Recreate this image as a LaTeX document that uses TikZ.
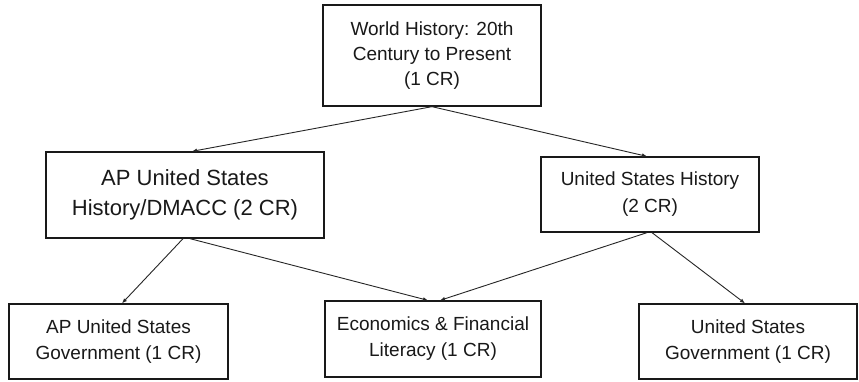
\documentclass[tikz,border=0pt]{standalone}
\usepackage{fontspec}
\setmainfont{Liberation Sans}
\usetikzlibrary{arrows.meta}
\tikzset{
  box/.style={draw=black!90, line width=1.3pt, fill=white, align=center, inner sep=0pt, text=black!90},
  arr/.style={draw=black!85, line width=0.9pt, -{Latex[length=5pt,width=4pt]}},
  fnormal/.style={font=\fontsize{19}{26}\selectfont},
}
\begin{document}
\begin{tikzpicture}[x=1pt,y=-1pt]
\useasboundingbox[fill=white] (0,0) rectangle (859,381);
\node[box, minimum width=218pt, minimum height=101pt, font=\fontsize{19}{25}\selectfont] (top) at (432,55.5) {World History: 20th\\Century to Present\\(1 CR)};
\node[box, minimum width=278pt, minimum height=86pt, font=\fontsize{22}{30}\selectfont] (lm) at (185,195) {AP United States\\History/DMACC (2 CR)};
\node[box, minimum width=218pt, minimum height=75pt, font=\fontsize{19}{27}\selectfont] (rm) at (650,194.5) {United States History\\(2 CR)};
\node[box, fnormal, minimum width=219pt, minimum height=75pt] (bl) at (118.5,341.5) {AP United States\\Government (1 CR)};
\node[box, fnormal, minimum width=216pt, minimum height=76pt] (bc) at (433,339) {Economics \& Financial\\Literacy (1 CR)};
\node[box, fnormal, minimum width=218pt, minimum height=75pt] (br) at (748,341.5) {United States\\Government (1 CR)};
\draw[arr] (top.south) -- ([xshift=7pt]lm.north);
\draw[arr] (top.south) -- ([xshift=-3pt]rm.north);
\draw[arr] ([xshift=-2pt]lm.south) -- ([xshift=3.5pt]bl.north);
\draw[arr] ([xshift=5pt]lm.south) -- ([xshift=-5pt]bc.north);
\draw[arr] ([xshift=-3pt]rm.south) -- ([xshift=7pt]bc.north);
\draw[arr] ([xshift=2pt]rm.south) -- ([xshift=-3pt]br.north);
\end{tikzpicture}
\end{document}
